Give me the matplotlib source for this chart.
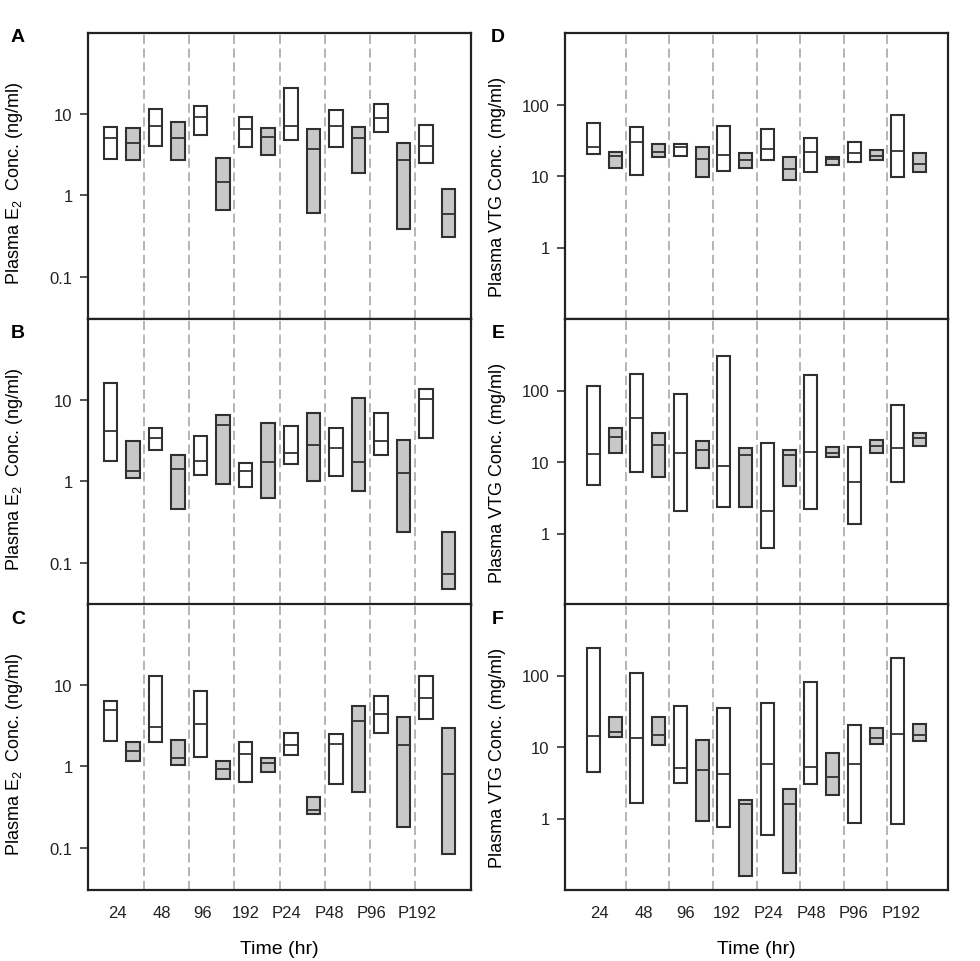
import numpy as np
import matplotlib.pyplot as plt

plt.rcParams['font.family'] = ['Liberation Sans', 'DejaVu Sans']
plt.rcParams['mathtext.default'] = 'regular'

times = ['24', '48', '96', '192', 'P24', 'P48', 'P96', 'P192']

# (min, median, max) for every time point, white = control boxes, grey = exposed
a_white = [(2.8, 5.1, 7.0), (4.1, 7.2, 11.7), (5.5, 9.3, 12.7), (3.9, 6.6, 9.3),
           (4.8, 7.1, 21.3), (3.9, 7.2, 11.4), (6.1, 9.1, 13.4), (2.5, 4.0, 7.4)]
a_grey = [(2.7, 4.4, 6.7), (2.7, 5.1, 8.0), (0.66, 1.48, 2.9), (3.1, 5.2, 6.7),
          (0.60, 3.7, 6.5), (1.9, 5.1, 7.0), (0.38, 2.7, 4.4), (0.305, 0.59, 1.2)]

b_white = [(1.77, 4.2, 16.4), (2.42, 3.44, 4.5), (1.19, 1.77, 3.67), (0.85, 1.36, 1.67),
           (1.63, 2.24, 4.8), (1.15, 2.56, 4.6), (2.1, 3.15, 7.0), (3.44, 10.2, 13.7)]
b_grey = [(1.09, 1.36, 3.15), (0.46, 1.41, 2.14), (0.93, 5.0, 6.5), (0.63, 1.72, 5.3),
          (1.0, 2.82, 6.9), (0.76, 1.71, 10.6), (0.24, 1.26, 3.2), (0.047, 0.073, 0.24)]

c_white = [(2.06, 5.0, 6.4), (2.02, 3.06, 12.8), (1.32, 3.3, 8.4), (0.64, 1.43, 1.99),
           (1.38, 1.81, 2.56), (0.61, 1.9, 2.49), (2.56, 4.46, 7.4), (3.87, 6.9, 13.1)]
c_grey = [(1.16, 1.53, 2.02), (1.04, 1.25, 2.12), (0.70, 0.94, 1.16), (0.86, 1.1, 1.25),
          (0.256, 0.29, 0.42), (0.48, 3.6, 5.6), (0.177, 1.84, 4.0), (0.083, 0.80, 2.94)]

d_white = [(20.3, 25.4, 56), (10.2, 29.5, 48), (19.2, 25.1, 28.3), (11.6, 19.9, 50),
           (16.9, 23.8, 46), (11.5, 21.4, 33.9), (15.5, 20.9, 29.5), (9.8, 22.1, 71)]
d_grey = [(13.1, 19.0, 21.6), (18.4, 21.9, 28), (9.8, 17.1, 25.1), (12.8, 16.7, 21.2),
          (8.7, 12.5, 18.2), (14.4, 17.3, 18.6), (16.6, 19.2, 23.3), (11.3, 14.9, 20.7)]

e_white = [(4.8, 12.9, 115), (7.2, 40.7, 169), (2.07, 13.2, 90), (2.36, 8.9, 301),
           (0.62, 2.09, 18.2), (2.23, 13.9, 164), (1.35, 5.3, 16.0), (5.3, 15.7, 62)]
e_grey = [(13.4, 22.5, 30), (6.1, 17.3, 25.7), (8.3, 14.6, 19.9), (2.38, 12.7, 15.7),
          (4.6, 12.5, 14.9), (11.6, 13.5, 16.0), (13.4, 16.9, 20.0), (16.9, 21.9, 25.1)]

f_white = [(4.5, 14.1, 240), (1.67, 13.2, 109), (3.18, 5.15, 36.9), (0.75, 4.2, 34.7),
           (0.59, 5.85, 40.7), (3.08, 5.2, 80), (0.86, 5.7, 20.0), (0.84, 15.2, 173)]
f_grey = [(13.9, 16.4, 26.2), (10.5, 14.9, 25.9), (0.93, 4.8, 12.7), (0.157, 1.62, 1.82),
          (0.171, 1.62, 2.59), (2.12, 3.86, 8.3), (11.0, 13.5, 18.4), (12.2, 14.9, 21.2)]

e2_label = r'Plasma E$_2$  Conc. (ng/ml)'
vtg_label = 'Plasma VTG Conc. (mg/ml)'

# tick label spots differ a little between the two columns in the original
left_tick_pos = [1.3, 3.3, 5.1, 7.0, 8.8, 10.7, 12.6, 14.6]
right_tick_pos = [1.26, 3.34, 5.23, 7.15, 9.04, 11.02, 12.98, 15.16]

edge = '#303030'
fill_grey = '#c8c8c8'


def draw_panel(ax, white, grey, ylim, yticks, xlim):
    x_white = np.arange(len(times)) * 2 + 1
    x_grey = x_white + 1
    for xs, stats, col in [(x_white, white, 'white'), (x_grey, grey, fill_grey)]:
        lo = np.array([s[0] for s in stats])
        med = np.array([s[1] for s in stats])
        hi = np.array([s[2] for s in stats])
        ax.bar(xs, hi - lo, bottom=lo, width=0.6, color=col, edgecolor=edge,
               linewidth=1.5, zorder=3)
        ax.hlines(med, xs - 0.3, xs + 0.3, color=edge, linewidth=1.3, zorder=4)
    for xd in np.arange(2.5, 15, 2):
        ax.axvline(xd, color='#a0a0a0', linewidth=1.1, dashes=(6, 3), zorder=1)
    ax.set_yscale('log')
    ax.set_ylim(*ylim)
    ax.set_xlim(*xlim)
    ax.set_yticks(yticks)
    ax.set_yticklabels([('%g' % t) for t in yticks])
    ax.minorticks_off()
    ax.tick_params(axis='y', length=6, width=1.1, pad=5, labelsize=12, colors='#222222')
    ax.tick_params(axis='x', length=0, pad=11, labelsize=12, colors='#222222')
    for sp in ax.spines.values():
        sp.set_linewidth(1.6)
        sp.set_color('#222222')


fig = plt.figure(figsize=(9.8, 9.62), dpi=100)

W, H = 980, 962
col_left = [88, 565]
col_width = 383
row_top = [34, 320, 605]
row_height = 286

panels = [
    ('A', a_white, a_grey, 0, 0), ('B', b_white, b_grey, 0, 1), ('C', c_white, c_grey, 0, 2),
    ('D', d_white, d_grey, 1, 0), ('E', e_white, e_grey, 1, 1), ('F', f_white, f_grey, 1, 2),
]

for letter, white, grey, col, row in panels:
    left = col_left[col] / W
    bottom = 1 - (row_top[row] + row_height) / H
    ax = fig.add_axes([left, bottom, col_width / W, row_height / H])
    if col == 0:
        draw_panel(ax, white, grey, (0.03, 100), [0.1, 1, 10], (0, 17))
        ax.set_ylabel(e2_label, fontsize=13)
        ax.yaxis.set_label_coords(-0.165, 0.48)
        tick_pos = left_tick_pos
    else:
        draw_panel(ax, white, grey, (0.1, 1000), [1, 10, 100], (-0.3, 17.3))
        ax.set_ylabel(vtg_label, fontsize=13)
        ax.yaxis.set_label_coords(-0.155, 0.465)
        tick_pos = right_tick_pos
    if row == 2:
        ax.set_xticks(tick_pos)
        ax.set_xticklabels(times)
        ax.set_xlabel('Time (hr)', fontsize=14, labelpad=14)
    else:
        ax.set_xticks([])
    lx = 18 if col == 0 else 498
    ly = [38, 333, 620][row]
    fig.text(lx / W, 1 - ly / H, letter, fontsize=14, fontweight='bold',
             ha='center', va='center')

fig.savefig('out.png', dpi=100)
